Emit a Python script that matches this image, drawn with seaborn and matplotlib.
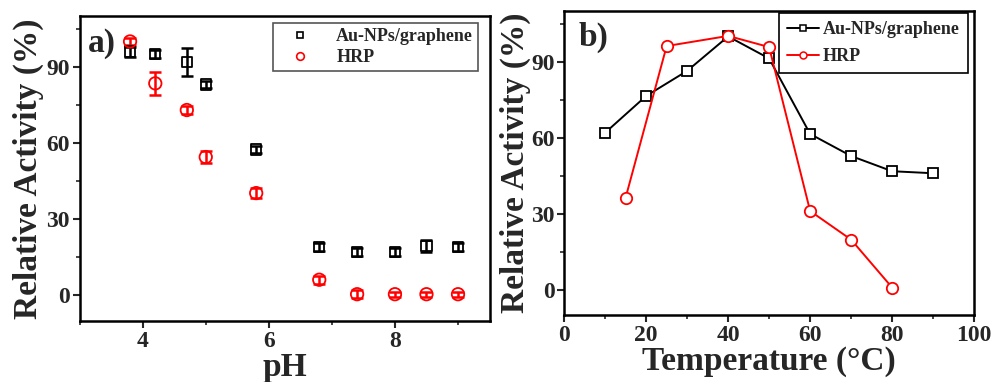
import numpy as np
import pandas as pd
import matplotlib
matplotlib.use("Agg")
import matplotlib.pyplot as plt
import seaborn as sns
from matplotlib.ticker import MultipleLocator
from matplotlib.lines import Line2D

# ---- data ----
ph = [3.8, 4.2, 4.7, 5.0, 5.8, 6.8, 7.4, 8.0, 8.5, 9.0]
au_ph = [96, 95, 92, 83, 57.5, 19, 17, 17, 19.5, 19]
au_ph_err = [2, 1.5, 5.5, 1.5, 1.5, 1.5, 1.5, 1.5, 2.5, 1.5]
hrp_ph = [100, 83.5, 73, 54.5, 40.3, 6.2, 0.5, 0.5, 0.5, 0.5]
hrp_ph_err = [1.5, 4.5, 1.5, 2.5, 2, 1.5, 1.5, 1, 1, 1]

temp_au = [10, 20, 30, 40, 50, 60, 70, 80, 90]
au_temp = [62, 76.5, 86.4, 100, 91.3, 61.5, 52.8, 46.8, 46]
temp_hrp = [15, 25, 40, 50, 60, 70, 80]
hrp_temp = [36.4, 96.2, 100.2, 95.8, 31.1, 19.8, 0.9]

labels = ["Au-NPs/graphene", "HRP"]
colors = ["black", "red"]

sns.set_style("ticks")
plt.rcParams['font.family'] = ['Liberation Serif', 'DejaVu Serif']
plt.rcParams['font.weight'] = 'bold'
plt.rcParams['axes.labelweight'] = 'bold'

fig = plt.figure(figsize=(9.95, 3.82), dpi=100)
ax1 = fig.add_axes([0.080, 0.160, 0.412, 0.798])
ax2 = fig.add_axes([0.567, 0.175, 0.412, 0.796])

# ---- panel a ----
df_au = pd.DataFrame({"pH": ph, "act": au_ph, "err": au_ph_err})
df_hrp = pd.DataFrame({"pH": ph, "act": hrp_ph, "err": hrp_ph_err})
for sub, col, mk, s in [(df_au, "black", "s", 56), (df_hrp, "red", "o", 80)]:
    ax1.errorbar(sub.pH, sub.act, yerr=sub.err, fmt="none", ecolor=col,
                 elinewidth=1.8, capsize=4.5, capthick=1.8, zorder=2)
    sns.scatterplot(data=sub, x="pH", y="act", marker=mk, s=s,
                    facecolors="none", edgecolor=col, linewidth=1.3,
                    ax=ax1, zorder=3, legend=False)
    sc = ax1.collections[-1]
    sc.set_edgecolors(col)
    sc.set_facecolors("none")

ax1.set_xlim(3, 9.5)
ax1.set_ylim(-10, 110)
ax1.xaxis.set_major_locator(MultipleLocator(2))
ax1.xaxis.set_minor_locator(MultipleLocator(1))
ax1.yaxis.set_major_locator(MultipleLocator(30))
ax1.yaxis.set_minor_locator(MultipleLocator(15))
ax1.set_xlabel("pH", fontsize=24, labelpad=0)
ax1.set_ylabel("Relative Activity (%)", fontsize=24, labelpad=2)
ax1.text(0.02, 0.96, "a)", transform=ax1.transAxes, fontsize=24,
         fontweight="bold", va="top", ha="left")
h1 = [Line2D([], [], ls="none", marker="s", ms=4.5, mfc="none", mec="black", mew=1.2),
      Line2D([], [], ls="none", marker="o", ms=5.5, mfc="none", mec="red", mew=1.2)]
leg1 = ax1.legend(h1, labels, loc="upper right", bbox_to_anchor=(0.973, 0.977),
                  fancybox=False, edgecolor="#555555", framealpha=1,
                  prop={"size": 13, "weight": "bold"}, handletextpad=0.8,
                  borderpad=0.3, labelspacing=0.2, handlelength=2.4,
                  borderaxespad=0)
leg1.get_frame().set_linewidth(1.2)

# ---- panel b ----
df_b = pd.DataFrame({
    "T": temp_au + temp_hrp,
    "act": au_temp + hrp_temp,
    "series": [labels[0]] * len(temp_au) + [labels[1]] * len(temp_hrp),
})
sns.lineplot(data=df_b, x="T", y="act", hue="series", style="series",
             palette=colors, markers=["s", "o"], dashes=False, ms=8,
             mew=1.3, lw=1.4, ax=ax2, legend=False)
for ln, col, ms in zip(ax2.lines, colors, [7.5, 8.2]):
    ln.set_markeredgecolor(col)
    ln.set_markerfacecolor("white")
    ln.set_markersize(ms)
ax2.set_xlim(0, 100)
ax2.set_ylim(-10, 110)
ax2.xaxis.set_major_locator(MultipleLocator(20))
ax2.xaxis.set_minor_locator(MultipleLocator(10))
ax2.yaxis.set_major_locator(MultipleLocator(30))
ax2.yaxis.set_minor_locator(MultipleLocator(15))
ax2.set_xlabel("Temperature (°C)", fontsize=24, labelpad=0)
ax2.set_ylabel("Relative Activity (%)", fontsize=24, labelpad=0)
ax2.text(0.035, 0.965, "b)", transform=ax2.transAxes, fontsize=24,
         fontweight="bold", va="top", ha="left")
h2 = [Line2D([], [], color="black", lw=1.4, marker="s", ms=4.5, mfc="white", mec="black", mew=1.1),
      Line2D([], [], color="red", lw=1.4, marker="o", ms=5, mfc="white", mec="red", mew=1.1)]
leg2 = ax2.legend(h2, labels, loc="upper right", bbox_to_anchor=(0.985, 0.993),
                  fancybox=False, edgecolor="black", framealpha=1,
                  prop={"size": 13, "weight": "bold"}, handletextpad=0.2,
                  borderpad=0.45, labelspacing=0.55, handlelength=1.8,
                  borderaxespad=0)
leg2.get_frame().set_linewidth(1.2)
leg2.set_zorder(5)

for ax in (ax1, ax2):
    for s in ax.spines.values():
        s.set_linewidth(1.8)
        s.set_color("black")
    ax.tick_params(which="major", direction="out", length=5, width=1.5,
                   labelsize=17, pad=2)
    ax.tick_params(which="minor", direction="out", length=3, width=1.2)
    for t in ax.get_xticklabels() + ax.get_yticklabels():
        t.set_fontweight("bold")

fig.savefig("out.png", dpi=100)
